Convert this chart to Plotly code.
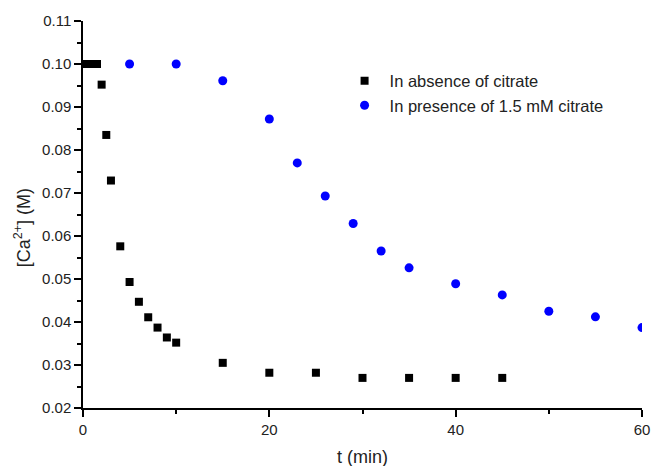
import plotly.graph_objects as go

t_absent = [0, 0.5, 1, 1.5, 2, 2.5, 3, 4, 5, 6, 7, 8, 9, 10, 15, 20, 25, 30, 35, 40, 45]
ca_absent = [0.100, 0.100, 0.100, 0.100, 0.0952, 0.0835, 0.0729, 0.0576, 0.0493, 0.0447,
             0.0411, 0.0387, 0.0364, 0.0352, 0.0305, 0.0282, 0.0282, 0.0270, 0.0270, 0.0270, 0.0270]

t_present = [5, 10, 15, 20, 23, 26, 29, 32, 35, 40, 45, 50, 55, 60]
ca_present = [0.100, 0.100, 0.0961, 0.0872, 0.0770, 0.0693, 0.0629, 0.0565, 0.0526,
              0.0489, 0.0463, 0.0425, 0.0412, 0.0387]

x_title = "t (min)"
y_title = "[Ca<sup>2+</sup>] (M)"

FONT = "Liberation Sans, Arial, sans-serif"

fig = go.Figure()
fig.add_trace(go.Scatter(x=t_absent, y=ca_absent, mode="markers",
                         name="In absence of citrate",
                         marker=dict(symbol="square", size=8, color="black")))
fig.add_trace(go.Scatter(x=t_present, y=ca_present, mode="markers",
                         name="In presence of 1.5 mM citrate",
                         marker=dict(symbol="circle", size=9, color="#0000FF")))

axis_common = dict(showline=True, linecolor="black", linewidth=1.5, mirror=False,
                   showgrid=False, zeroline=False, ticks="outside", ticklen=7,
                   tickwidth=1.5, tickcolor="black", automargin=False,
                   tickfont=dict(family=FONT, size=15, color="#222"))

fig.update_xaxes(range=[0, 60], tick0=0, dtick=20,
                 minor=dict(dtick=10, ticks="outside", ticklen=4, tickwidth=1.5, tickcolor="black"),
                 **axis_common)
fig.update_yaxes(range=[0.02, 0.11], tick0=0.02, dtick=0.01, tickformat=".2f",
                 minor=dict(dtick=0.005, ticks="outside", ticklen=4, tickwidth=1.5, tickcolor="black"),
                 **axis_common)

fig.add_annotation(text=x_title, xref="paper", yref="paper", x=0.5, y=-0.126,
                   xanchor="center", yanchor="middle", showarrow=False,
                   font=dict(family=FONT, size=18, color="#222"))
fig.add_annotation(text=y_title, xref="paper", yref="paper", x=-0.108, y=0.466,
                   xanchor="center", yanchor="middle", showarrow=False, textangle=-90,
                   font=dict(family=FONT, size=18, color="#222"))

fig.update_layout(
    width=652, height=466,
    margin=dict(l=83, r=10, t=21, b=58, autoexpand=False),
    plot_bgcolor="white", paper_bgcolor="white",
    legend=dict(x=0.459, y=0.89, xanchor="left", yanchor="top", itemwidth=40,
                font=dict(family=FONT, size=16.5, color="#222"),
                bgcolor="rgba(0,0,0,0)", tracegroupgap=0),
)

fig.write_html("out.html")
